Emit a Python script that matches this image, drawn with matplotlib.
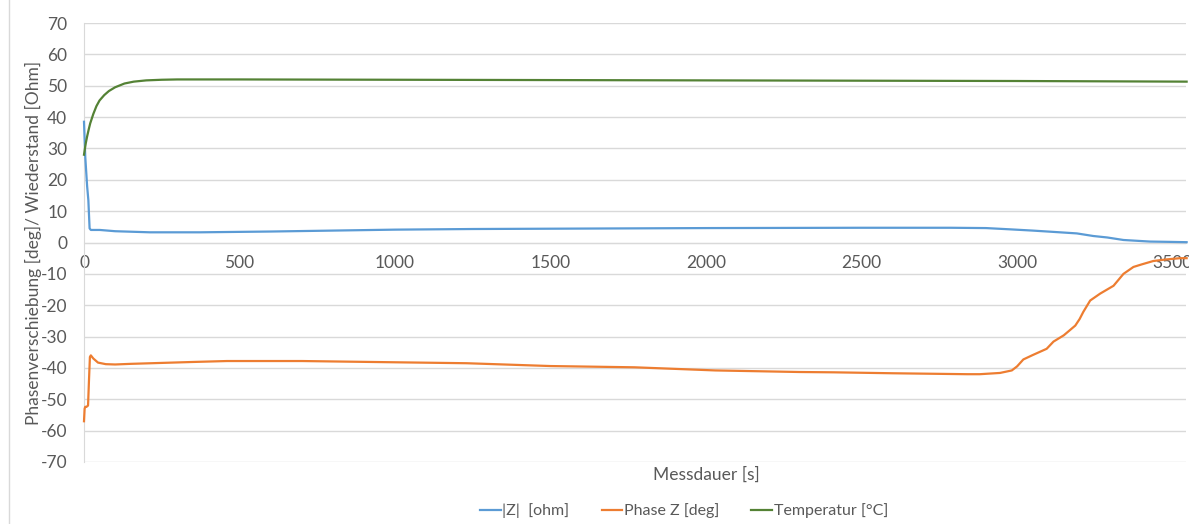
import matplotlib
matplotlib.use("Agg")
import matplotlib.pyplot as plt
from matplotlib.lines import Line2D

plt.rcParams['font.family'] = ['Lato', 'DejaVu Sans']
plt.rcParams['axes.unicode_minus'] = False

# |Z| impedance magnitude [ohm]
t_z = [0, 4, 10, 14, 18, 22, 35, 51, 100, 212, 373, 600, 800, 1000, 1250, 1500, 1750,
       2000, 2250, 2500, 2785, 2900, 2977, 3050, 3106, 3192, 3245, 3290, 3342, 3427, 3490, 3545]
z_vals = [38.5, 27.4, 18, 13.5, 4.5, 4.0, 4.0, 4.0, 3.6, 3.25, 3.25, 3.5, 3.8, 4.1, 4.3, 4.4, 4.5,
          4.6, 4.65, 4.7, 4.7, 4.6, 4.2, 3.8, 3.45, 2.9, 2.07, 1.6, 0.8, 0.3, 0.2, 0.1]

# Phase Z [deg]
t_phase = [0, 2, 4, 8, 13, 16, 19, 22, 30, 45, 70, 100, 150, 250, 350, 460, 600, 700, 850,
           1000, 1230, 1500, 1770, 2030, 2300, 2410, 2600, 2840, 2880, 2945, 2983, 3000, 3020,
           3050, 3095, 3117, 3150, 3187, 3201, 3213, 3235, 3267, 3310, 3342, 3374, 3400, 3438,
           3480, 3524, 3545]
phase_vals = [-57, -53, -52.4, -52.4, -52, -44, -36.5, -36, -37, -38.3, -38.8, -38.9, -38.7,
              -38.4, -38.1, -37.8, -37.8, -37.8, -38.0, -38.2, -38.5, -39.4, -39.8, -40.8,
              -41.3, -41.4, -41.7, -42.0, -42.0, -41.6, -40.8, -39.5, -37.3, -35.9, -33.9,
              -31.6, -29.6, -26.5, -24.4, -22.1, -18.5, -16.3, -13.8, -10.0, -7.8, -7.0,
              -5.9, -5.4, -5.0, -5.0]

# Temperature [°C]
t_temp = [0, 3, 6, 10, 15, 20, 30, 40, 50, 65, 80, 100, 130, 160, 200, 250, 300, 500, 1000,
          1500, 2000, 2500, 3000, 3545]
temp_vals = [28, 30, 31.8, 33.8, 36, 38, 41, 43.5, 45.3, 47, 48.3, 49.5, 50.7, 51.3, 51.7,
             51.9, 52.0, 52.0, 51.9, 51.8, 51.7, 51.6, 51.5, 51.3]

x_ticks = [0, 500, 1000, 1500, 2000, 2500, 3000, 3500]
y_ticks = list(range(-70, 71, 10))

labels = ['|Z|  [ohm]', 'Phase Z [deg]', 'Temperatur [°C]']
colors = ['#5B9BD5', '#ED7D31', '#548235']
text_color = '#595959'
grid_color = '#D9D9D9'
fs = 12.5

fig = plt.figure(figsize=(11.89, 5.24), dpi=100)
ax = fig.add_axes([84 / 1189, 62 / 524, 1102 / 1189, 439 / 524])

ax.plot(t_z, z_vals, color=colors[0], lw=1.6, label=labels[0], solid_joinstyle='round',
        clip_on=False, zorder=3)
ax.plot(t_phase, phase_vals, color=colors[1], lw=1.6, label=labels[1],
        solid_joinstyle='round', clip_on=False, zorder=3)
ax.plot(t_temp, temp_vals, color=colors[2], lw=1.6, label=labels[2],
        solid_joinstyle='round', clip_on=False, zorder=3)

ax.set_xlim(0, 3543)
ax.set_ylim(-70, 70)
ax.set_yticks(y_ticks)
ax.set_xticks(x_ticks)
ax.yaxis.grid(True, color=grid_color, lw=1.0)
ax.set_axisbelow(True)

for s in ['top', 'right']:
    ax.spines[s].set_visible(False)
ax.spines['left'].set_color(grid_color)
ax.spines['bottom'].set_color(grid_color)
ax.spines['bottom'].set_position(('data', 0))
ax.spines['left'].set_zorder(1)
ax.spines['bottom'].set_zorder(1)

ax.tick_params(axis='both', length=0, colors=text_color, labelsize=fs)
ax.tick_params(axis='y', pad=12)
ax.tick_params(axis='x', pad=9)

ax.set_ylabel('Phasenverschiebung [deg]/ Wiederstand [Ohm]', color=text_color, fontsize=fs,
              labelpad=-1)
fig.text(706 / 1189, 1 - 475 / 524, 'Messdauer [s]', color=text_color, fontsize=fs,
         ha='center', va='center')

handles = [Line2D([0], [0], color=c, lw=1.6) for c in colors]
fig.legend(handles, labels, loc='center', bbox_to_anchor=(684 / 1189, 1 - 511 / 524),
           ncol=3, frameon=False, fontsize=11.5, labelcolor=text_color, handlelength=1.3,
           handletextpad=0.1, columnspacing=2.0)

# chart area border on the left
fig.add_artist(Line2D([8.5 / 1189, 8.5 / 1189], [0, 1], color=grid_color, lw=1.0,
                      transform=fig.transFigure))

fig.savefig('out.png', dpi=100, facecolor='white')
